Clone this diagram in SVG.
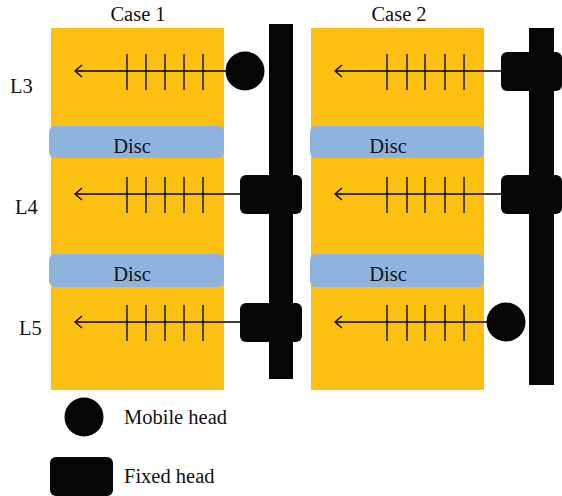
<svg xmlns="http://www.w3.org/2000/svg" width="562" height="496" viewBox="0 0 562 496">
<defs>
<style>
.lay{fill:#FBC012}
.disc{fill:#8EB3DE}
.blk{fill:#060606}
.ln{stroke:#000;stroke-width:1.3;fill:none}
.tk{stroke:#000;stroke-width:1.3}
text{font-family:"Liberation Serif",serif;font-size:20.5px;fill:#111}
.mid{text-anchor:middle}
</style>
<marker id="ah" markerWidth="10" markerHeight="14" refX="8" refY="7" orient="auto" markerUnits="userSpaceOnUse">
<path d="M1,1 L8,7 L1,13" fill="none" stroke="#000" stroke-width="1.3"/>
</marker>
</defs>
<rect width="562" height="496" fill="#fff"/>
<g id="case1">
<rect class="lay" x="51" y="28" width="173" height="362"/>
<text class="mid" x="138" y="21">Case 1</text>
</g>
<g id="case2">
<rect class="lay" x="311" y="28" width="173" height="362"/>
<text class="mid" x="399" y="21">Case 2</text>
</g>
<g id="levels">
<text x="10" y="93">L3</text>
<text x="15" y="214">L4</text>
<text x="19" y="335">L5</text>
</g>
<g id="discs">
<rect class="disc" x="49" y="126" width="175" height="32" rx="6"/>
<text class="mid" x="132" y="153">Disc</text>
<rect class="disc" x="49" y="254" width="175" height="33" rx="6"/>
<text class="mid" x="132" y="281">Disc</text>
<rect class="disc" x="310" y="126" width="174" height="32" rx="6"/>
<text class="mid" x="388" y="153">Disc</text>
<rect class="disc" x="310" y="254" width="174" height="33" rx="6"/>
<text class="mid" x="388" y="281">Disc</text>
</g>
<g id="connectors">
<line class="ln" x1="240" y1="71" x2="75" y2="71" marker-end="url(#ah)"/>
<line class="ln" x1="240" y1="194" x2="75" y2="194" marker-end="url(#ah)"/>
<line class="ln" x1="240" y1="322" x2="75" y2="322" marker-end="url(#ah)"/>
<line class="ln" x1="501" y1="71" x2="335" y2="71" marker-end="url(#ah)"/>
<line class="ln" x1="501" y1="194" x2="335" y2="194" marker-end="url(#ah)"/>
<line class="ln" x1="501" y1="322" x2="335" y2="322" marker-end="url(#ah)"/>
<path class="tk" d="M127,54V90M146,54V90M165,54V90M184,54V90M203,54V90"/>
<path class="tk" d="M127,177V213M146,177V213M165,177V213M184,177V213M203,177V213"/>
<path class="tk" d="M127,305V341M146,305V341M165,305V341M184,305V341M203,305V341"/>
<path class="tk" d="M387,54V90M407,54V90M425,54V90M445,54V90M464,54V90"/>
<path class="tk" d="M387,177V213M407,177V213M425,177V213M445,177V213M464,177V213"/>
<path class="tk" d="M387,305V341M407,305V341M425,305V341M445,305V341M464,305V341"/>
</g>
<g id="bar1">
<rect class="blk" x="269" y="24" width="24" height="355"/>
</g>
<g id="bar2">
<rect class="blk" x="529" y="28" width="25" height="357"/>
</g>
<g id="heads1">
<circle class="blk" cx="245" cy="71" r="19.5"/>
<rect class="blk" x="240" y="175" width="62" height="39" rx="6"/>
<rect class="blk" x="240" y="303" width="62" height="39" rx="6"/>
</g>
<g id="heads2">
<rect class="blk" x="501" y="52" width="61" height="39" rx="6"/>
<rect class="blk" x="501" y="175" width="61" height="39" rx="6"/>
<circle class="blk" cx="506" cy="322" r="19.5"/>
</g>
<g id="legend">
<circle class="blk" cx="84" cy="417" r="19.5"/>
<text x="124" y="424">Mobile head</text>
<rect class="blk" x="50" y="457" width="63" height="39" rx="6"/>
<text x="124" y="483">Fixed head</text>
</g>
</svg>
